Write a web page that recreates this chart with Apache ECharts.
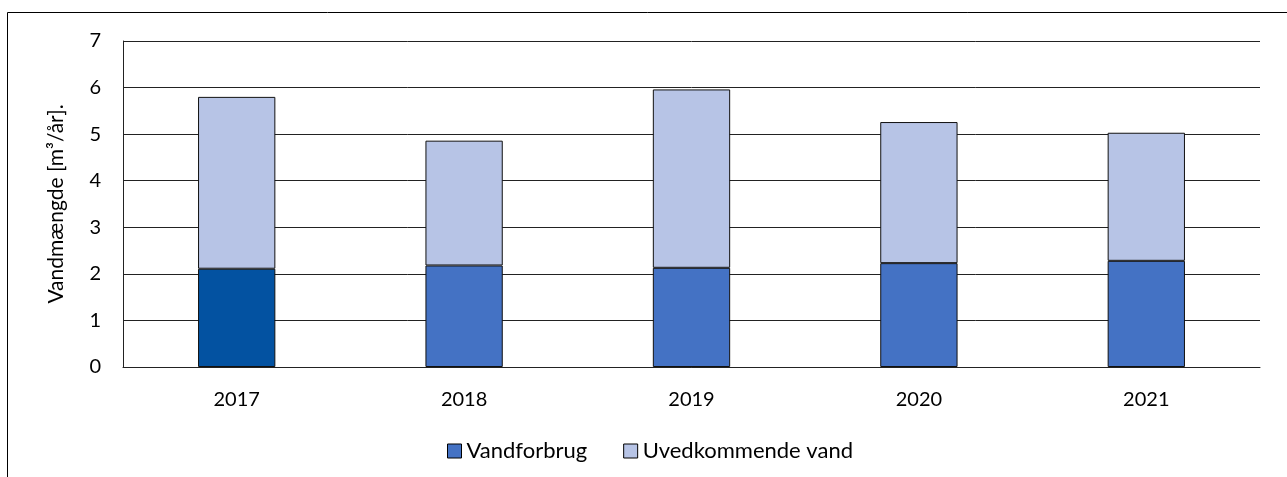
<!DOCTYPE html>
<html>
<head>
<meta charset="utf-8">
<script src="https://cdn.jsdelivr.net/npm/echarts@6/dist/echarts.min.js"></script>
<style>
  html, body { margin: 0; padding: 0; background: #fff; }
  #chart { width: 1287px; height: 477px; }
</style>
</head>
<body>
<div id="chart"></div>
<script>
// Years on the category axis
const years = ['2017', '2018', '2019', '2020', '2021'];
// Water consumption (m³/år), bottom segment
const vandforbrug = [2.11, 2.18, 2.13, 2.23, 2.28];
// Infiltration / extraneous water (m³/år), top segment
const uvedkommende = [3.69, 2.68, 3.83, 3.03, 2.75];
// Value axis ticks
const yTicks = [0, 1, 2, 3, 4, 5, 6, 7];

const FONT = 'Lato';
const DARK = '#0352A1';
const MID = '#4472C4';
const LIGHT = '#B7C4E6';

const chart = echarts.init(document.getElementById('chart'), null, { renderer: 'canvas' });

chart.setOption({
  animation: false,
  backgroundColor: '#fff',
  textStyle: { fontFamily: FONT },
  grid: { left: 123, right: 27, top: 41, bottom: 110, containLabel: false },
  graphic: [{
    type: 'rect',
    shape: { x: 7.5, y: 12.5, width: 1300, height: 500 },
    style: { fill: 'none', stroke: '#000', lineWidth: 1 },
    silent: true
  }],
  legend: {
    bottom: 10,
    left: 442,
    icon: 'rect',
    itemWidth: 14,
    itemHeight: 14,
    itemGap: 36,
    textStyle: { fontFamily: FONT, fontSize: 22, color: '#000' },
    data: [
      { name: 'Vandforbrug', itemStyle: { color: MID, borderColor: '#000', borderWidth: 1 } },
      { name: 'Uvedkommende vand', itemStyle: { color: LIGHT, borderColor: '#000', borderWidth: 1 } }
    ]
  },
  xAxis: {
    type: 'category',
    data: years,
    axisTick: { show: false },
    axisLine: { show: true, lineStyle: { color: '#222', width: 1 } },
    axisLabel: { fontFamily: FONT, fontSize: 20, color: '#000', margin: 23 }
  },
  yAxis: {
    type: 'value',
    min: yTicks[0],
    max: yTicks[yTicks.length - 1],
    interval: 1,
    name: 'Vandmængde [m³/år].',
    nameLocation: 'middle',
    nameGap: 56,
    nameRotate: 90,
    nameTextStyle: { fontFamily: FONT, fontSize: 21, color: '#000' },
    axisLine: { show: true, lineStyle: { color: '#222', width: 1 } },
    axisTick: { show: false },
    axisLabel: { fontFamily: FONT, fontSize: 20, color: '#000', margin: 22 },
    splitLine: { show: true, lineStyle: { color: '#222', width: 1 } }
  },
  series: [
    {
      name: 'Vandforbrug',
      type: 'bar',
      stack: 'total',
      barWidth: '34%',
      itemStyle: { color: MID, borderColor: '#111', borderWidth: 1 },
      data: vandforbrug.map((v, i) => i === 0
        ? { value: v, itemStyle: { color: DARK } }
        : v)
    },
    {
      name: 'Uvedkommende vand',
      type: 'bar',
      stack: 'total',
      barWidth: '34%',
      itemStyle: { color: LIGHT, borderColor: '#111', borderWidth: 1 },
      data: uvedkommende
    }
  ]
});
</script>
</body>
</html>
